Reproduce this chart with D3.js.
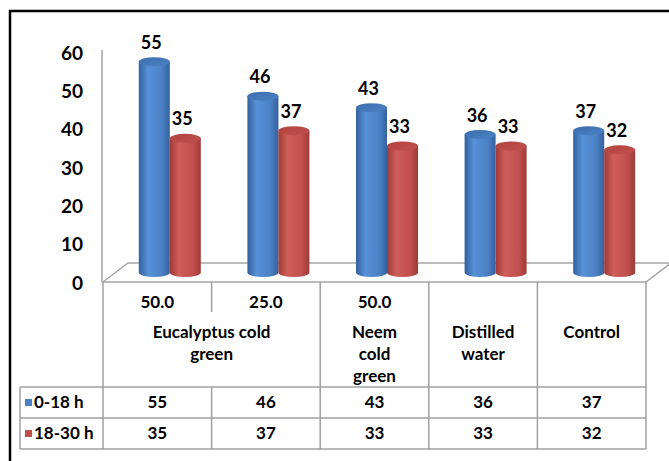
<!DOCTYPE html>
<html>
<head>
<meta charset="utf-8">
<script src="https://d3js.org/d3.v7.min.js"></script>
<style>
  body { margin: 0; background: #fff; }
  text { font-family: Lato, "Open Sans", sans-serif; font-weight: bold; fill: #000; }
</style>
</head>
<body>
<div class="canvas"></div>
<script>
// data
const concentrations = ["50.0", "25.0", "50.0", "", ""]
const treatments = [["Eucalyptus cold", "green"], ["Neem", "cold", "green"], ["Distilled", "water"], ["Control"]]
const treatmentSpan = [2, 1, 1, 1]
const seriesNames = ["0-18 h", "18-30 h"]
const early = [55, 46, 43, 36, 37]
const late = [35, 37, 33, 33, 32]
const yTicks = [0, 10, 20, 30, 40, 50, 60]

const width = 669, height = 461
const depthX = 25, depthY = 19
const tableTop = 282, dataTop = 387, rowH = 31
const rowLeft = 20

const svg = d3.select('.canvas').append('svg').attr('width', width).attr('height', height)

// outer frame
svg.append('rect').attr('x', 10).attr('y', 11).attr('width', 700).attr('height', 500)
  .attr('fill', 'none').attr('stroke', '#000').attr('stroke-width', 2.5)

// scales
const x = d3.scaleBand().domain(d3.range(early.length)).range([103, 646])
const y = d3.scaleLinear().domain([0, 60]).range([282, 52])

// gradients for cylinders
const defs = svg.append('defs')
const colours = [
  {id: 'blue', dark: '#33619d', light: '#5791d8', mid: '#4b81c4', top: '#3d6eae'},
  {id: 'red', dark: '#9e3a37', light: '#d05e5a', mid: '#c0504d', top: '#b3433f'}
]
colours.forEach(c => {
  const g = defs.append('linearGradient').attr('id', 'body-' + c.id).attr('x1', 0).attr('x2', 1).attr('y1', 0).attr('y2', 0)
  g.append('stop').attr('offset', '0%').attr('stop-color', c.dark)
  g.append('stop').attr('offset', '30%').attr('stop-color', c.light)
  g.append('stop').attr('offset', '75%').attr('stop-color', c.mid)
  g.append('stop').attr('offset', '100%').attr('stop-color', c.dark)
  const t = defs.append('linearGradient').attr('id', 'top-' + c.id).attr('x1', 0).attr('x2', 1).attr('y1', 0).attr('y2', 1)
  t.append('stop').attr('offset', '0%').attr('stop-color', c.top)
  t.append('stop').attr('offset', '100%').attr('stop-color', c.mid)
})

// y axis line and ticks
svg.append('line').attr('x1', 102).attr('x2', 102).attr('y1', 50).attr('y2', y(0))
  .attr('stroke', '#a6a6a6').attr('stroke-width', 1.5)
svg.append('g').selectAll('text').data(yTicks).enter().append('text')
  .attr('x', 83).attr('y', d => y(d) + 1).attr('dy', '0.35em')
  .attr('text-anchor', 'end').attr('font-size', 19).text(d => d)

// floor
const [fx0, fx1] = x.range()
svg.append('path')
  .attr('d', `M${fx0},${y(0)} L${fx0 + depthX},${y(0) - depthY} L${fx1 + depthX},${y(0) - depthY} L${fx1},${y(0)} Z`)
  .attr('fill', '#fff').attr('stroke', '#a6a6a6').attr('stroke-width', 1.5)

// cylinders
const rx = 15.5, ry = 4.5
const series = [early, late]
const bars = []
early.forEach((d, i) => {
  series.forEach((s, k) => {
    bars.push({i, k, value: s[i], colour: colours[k].id})
  })
})
const barX = d => x(d.i) + x.bandwidth() / 2 + depthX / 2 + (d.k === 0 ? -rx : rx)
const barTop = d => y(d.value) - depthY / 2
const barBase = y(0) - depthY / 2

const cyl = svg.append('g').selectAll('g').data(bars).enter().append('g')
cyl.append('path')
  .attr('d', d => {
    const cx = barX(d), yt = barTop(d)
    return `M${cx - rx},${yt} L${cx - rx},${barBase} A${rx},${ry} 0 0 0 ${cx + rx},${barBase} L${cx + rx},${yt} Z`
  })
  .attr('fill', d => `url(#body-${d.colour})`)
cyl.append('ellipse')
  .attr('cx', barX).attr('cy', barTop).attr('rx', rx).attr('ry', ry)
  .attr('fill', d => `url(#top-${d.colour})`)

// value labels
svg.append('g').selectAll('text').data(bars).enter().append('text')
  .attr('x', d => barX(d) - 3).attr('y', d => barTop(d) - 13)
  .attr('text-anchor', 'middle').attr('font-size', 18).text(d => d.value)

// data table
const grid = svg.append('g').attr('stroke', '#a0a0a0').attr('stroke-width', 1.5)
const tableBottom = dataTop + rowH * 2
// column lines
d3.range(early.length + 1).forEach(j => {
  const xx = j < early.length ? x(j) : fx1
  if (j === 1) {
    grid.append('line').attr('x1', xx).attr('x2', xx).attr('y1', tableTop).attr('y2', 312)
    grid.append('line').attr('x1', xx).attr('x2', xx).attr('y1', dataTop).attr('y2', tableBottom)
  } else {
    grid.append('line').attr('x1', xx).attr('x2', xx).attr('y1', tableTop).attr('y2', tableBottom)
  }
})
grid.append('line').attr('x1', rowLeft).attr('x2', rowLeft).attr('y1', dataTop).attr('y2', tableBottom)
d3.range(3).forEach(r => {
  grid.append('line').attr('x1', rowLeft).attr('x2', fx1).attr('y1', dataTop + r * rowH).attr('y2', dataTop + r * rowH)
})

// concentration row
svg.append('g').selectAll('text').data(concentrations).enter().append('text')
  .attr('x', (d, i) => x(i) + x.bandwidth() / 2).attr('y', 302).attr('dy', '0.35em')
  .attr('text-anchor', 'middle').attr('font-size', 17).text(d => d)

// treatment labels
let col = 0
treatments.forEach((lines, t) => {
  const start = col, end = col + treatmentSpan[t] - 1
  const cx = (x(start) + x(end) + x.bandwidth()) / 2
  const txt = svg.append('text').attr('x', cx).attr('y', 332).attr('text-anchor', 'middle').attr('font-size', 17)
  lines.forEach((l, n) => {
    txt.append('tspan').attr('x', cx).attr('dy', n === 0 ? '0.35em' : 22).text(l)
  })
  col += treatmentSpan[t]
})

// series rows
series.forEach((s, k) => {
  const cy = dataTop + rowH * k + rowH / 2
  svg.append('rect').attr('x', 25).attr('y', cy - 3.5).attr('width', 7).attr('height', 7)
    .attr('fill', colours[k].mid)
  svg.append('text').attr('x', 34).attr('y', cy).attr('dy', '0.35em').attr('font-size', 17).text(seriesNames[k])
  svg.append('g').selectAll('text').data(s).enter().append('text')
    .attr('x', (d, i) => x(i) + x.bandwidth() / 2).attr('y', cy).attr('dy', '0.35em')
    .attr('text-anchor', 'middle').attr('font-size', 17).text(d => d)
})
</script>
</body>
</html>
